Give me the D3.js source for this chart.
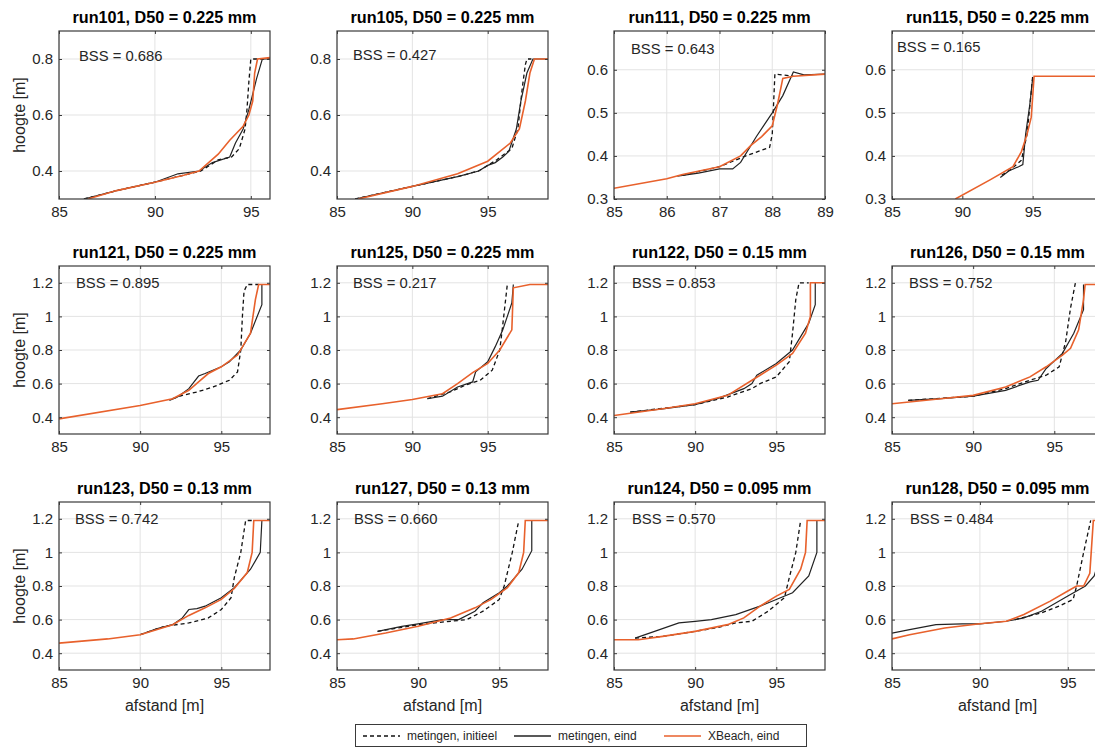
<!DOCTYPE html>
<html>
<head>
<meta charset="utf-8">
<script src="https://cdn.jsdelivr.net/npm/d3@7"></script>
<style>
  body { margin: 0; background: #fff; }
  svg { display: block; }
  text { font-family: "Liberation Sans", Arial, Helvetica, sans-serif; }
</style>
</head>
<body>
<svg id="fig" width="1095" height="749"></svg>
<script>
// ---- run metadata -------------------------------------------------------
const runNames = ["run101", "run105", "run111", "run115",
                  "run121", "run125", "run122", "run126",
                  "run123", "run127", "run124", "run128"];
const d50 = ["0.225", "0.225", "0.225", "0.225",
             "0.225", "0.225", "0.15", "0.15",
             "0.13", "0.13", "0.095", "0.095"];
const bssValues = ["0.686", "0.427", "0.643", "0.165",
                   "0.895", "0.217", "0.853", "0.752",
                   "0.742", "0.660", "0.570", "0.484"];
const xMax = [96, 99, 89, 100, 98, 99, 98, 98, 98, 98, 98, 97];
const yMax = [0.9, 0.9, 0.69, 0.69, 1.3, 1.3, 1.3, 1.3, 1.3, 1.3, 1.3, 1.3];
const xTicksWide = [85, 90, 95];
const xTicksNarrow = [85, 86, 87, 88, 89];
const yTicksRow1 = [0.4, 0.6, 0.8];
const yTicksLow = [0.3, 0.4, 0.5, 0.6];
const yTicksTall = [0.4, 0.6, 0.8, 1, 1.2];

// ---- profiles: [afstand, hoogte] ---------------------------------------
const run101_init = [[86.3,0.30],[88,0.33],[90,0.36],[91.5,0.385],[92.4,0.40],[93.3,0.44],[94.0,0.45],[94.4,0.48],[94.7,0.55],[94.8,0.62],[94.9,0.72],[95.0,0.80],[96,0.80]];
const run101_eind = [[86.3,0.30],[88,0.33],[90,0.36],[91.2,0.39],[92.3,0.40],[93.0,0.43],[93.9,0.45],[94.2,0.50],[94.6,0.55],[94.9,0.62],[95.3,0.73],[95.6,0.80],[96,0.80]];
const run101_xb   = [[86.5,0.30],[88,0.33],[90,0.36],[91.5,0.385],[92.3,0.40],[93.3,0.46],[93.9,0.51],[94.6,0.56],[94.9,0.60],[95.1,0.65],[95.2,0.75],[95.35,0.80],[96,0.805]];

const run105_init = [[86.2,0.30],[90,0.345],[93,0.38],[94.4,0.40],[95.6,0.44],[96.6,0.48],[97.0,0.55],[97.3,0.70],[97.5,0.78],[97.6,0.80],[97.9,0.80]];
const run105_eind = [[86.2,0.30],[90,0.345],[93,0.38],[94.4,0.40],[95.0,0.42],[95.5,0.43],[96.0,0.45],[96.4,0.47],[96.9,0.55],[97.2,0.65],[97.6,0.75],[98.0,0.80],[99,0.80]];
const run105_xb   = [[86.4,0.30],[90,0.345],[93,0.39],[95,0.435],[96.5,0.50],[97.1,0.55],[97.5,0.65],[97.8,0.75],[98.1,0.80],[99,0.80]];

const run111_init = [[86.3,0.355],[87,0.375],[87.3,0.39],[87.5,0.40],[87.95,0.42],[88.0,0.45],[88.05,0.59],[88.4,0.585]];
const run111_eind = [[86.2,0.353],[86.6,0.36],[87,0.37],[87.25,0.37],[87.4,0.385],[87.7,0.445],[88.0,0.50],[88.2,0.54],[88.4,0.595],[88.6,0.588],[89,0.59]];
const run111_xb   = [[85,0.325],[86,0.347],[86.3,0.357],[87,0.375],[87.4,0.40],[87.6,0.425],[87.8,0.445],[88.0,0.47],[88.1,0.52],[88.2,0.58],[88.4,0.585],[89,0.59]];

const run115_init = [[92.8,0.355],[93.5,0.37],[94.2,0.39],[94.6,0.45],[94.9,0.55],[95.0,0.585]];
const run115_eind = [[92.7,0.35],[93.3,0.365],[94.0,0.375],[94.3,0.38],[94.5,0.45],[94.8,0.52],[95.0,0.58]];
const run115_xb   = [[89.5,0.30],[92,0.345],[93.6,0.375],[94.2,0.41],[94.6,0.45],[94.9,0.49],[95.1,0.585],[100,0.585]];

const run121_init = [[92,0.51],[92.6,0.53],[93.5,0.55],[94.5,0.58],[95.5,0.62],[96.0,0.67],[96.2,0.80],[96.3,1.00],[96.4,1.15],[96.6,1.19],[97.3,1.19]];
const run121_eind = [[91.8,0.50],[92.3,0.52],[93,0.57],[93.6,0.645],[94,0.66],[95,0.70],[95.5,0.73],[96.2,0.80],[96.8,0.90],[97.5,1.07],[97.5,1.19],[98,1.19]];
const run121_xb   = [[85,0.39],[90,0.47],[92,0.51],[93,0.56],[93.6,0.61],[94.2,0.66],[95,0.70],[96,0.77],[96.8,0.90],[97.1,1.10],[97.3,1.19],[98,1.19]];

const run125_init = [[91,0.51],[92.5,0.55],[93.5,0.59],[94.5,0.62],[95.3,0.68],[95.8,0.80],[96.0,0.95],[96.3,1.19]];
const run125_eind = [[91,0.51],[92,0.525],[93,0.58],[94,0.61],[94.2,0.67],[95,0.73],[95.5,0.82],[96,0.92],[96.6,1.08],[96.7,1.19]];
const run125_xb   = [[85,0.445],[88,0.48],[90,0.505],[92,0.54],[93,0.60],[94,0.665],[95,0.72],[95.8,0.80],[96.6,0.92],[96.7,1.17],[97.8,1.19],[99,1.19]];

const run122_init = [[86,0.43],[90,0.475],[92,0.52],[93.5,0.57],[94,0.60],[95,0.64],[95.8,0.73],[96.0,0.90],[96.2,1.10],[96.4,1.20],[97,1.20]];
const run122_eind = [[86,0.43],[88,0.45],[90,0.475],[91.5,0.515],[93,0.57],[93.5,0.60],[93.8,0.65],[95,0.72],[96,0.80],[97,0.96],[97.4,1.07],[97.4,1.20]];
const run122_xb   = [[85,0.41],[88,0.45],[90,0.48],[92,0.53],[93.5,0.62],[94,0.65],[95,0.71],[96,0.78],[96.8,0.90],[97.1,1.00],[97.1,1.20],[98,1.20]];

const run126_init = [[86,0.50],[90,0.525],[92,0.57],[93.5,0.62],[94.5,0.65],[95.3,0.70],[95.7,0.85],[96.0,1.05],[96.3,1.20]];
const run126_eind = [[86,0.50],[88,0.51],[90,0.525],[92,0.56],[93.5,0.61],[94,0.62],[94.5,0.69],[95.5,0.78],[96.2,0.90],[96.8,1.04],[96.8,1.19]];
const run126_xb   = [[85,0.48],[88,0.51],[90,0.53],[92,0.58],[93.5,0.64],[94.5,0.70],[95.5,0.77],[96,0.81],[96.5,0.92],[96.8,1.10],[96.9,1.19],[98,1.19]];

const run123_init = [[90,0.51],[91.5,0.56],[93,0.58],[94.2,0.61],[95,0.66],[95.6,0.73],[95.8,0.85],[96.2,1.00],[96.5,1.19],[97,1.19]];
const run123_eind = [[90,0.51],[91,0.545],[92,0.57],[92.6,0.61],[93,0.66],[93.5,0.665],[94,0.68],[95,0.73],[95.8,0.79],[96.8,0.90],[97.4,1.00],[97.5,1.19],[98,1.19]];
const run123_xb   = [[85,0.46],[88,0.485],[90,0.51],[92,0.57],[93,0.625],[94,0.67],[95,0.72],[95.8,0.785],[96.6,0.88],[96.9,1.00],[97,1.19],[98,1.19]];

const run127_init = [[87.5,0.53],[90,0.57],[92,0.59],[93,0.60],[94,0.65],[95,0.72],[95.3,0.80],[95.8,1.00],[96.2,1.19]];
const run127_eind = [[87.5,0.53],[89,0.56],[90,0.575],[91.5,0.60],[92.5,0.60],[93.5,0.65],[94,0.70],[95,0.76],[95.5,0.80],[96.4,0.90],[97,1.01],[97,1.19]];
const run127_xb   = [[85,0.48],[86,0.485],[88,0.52],[90,0.56],[92,0.61],[93.5,0.67],[94.5,0.72],[95.5,0.79],[96.2,0.88],[96.5,1.00],[96.6,1.19],[98,1.19]];

const run124_init = [[86.3,0.49],[88,0.50],[90,0.53],[91.5,0.555],[92.5,0.58],[93.5,0.59],[94.5,0.65],[95.5,0.73],[95.8,0.85],[96.2,1.00],[96.5,1.19]];
const run124_eind = [[86.3,0.49],[87.5,0.53],[89,0.58],[90,0.59],[91,0.60],[92.5,0.63],[94,0.68],[95,0.72],[96,0.76],[97,0.86],[97.5,1.00],[97.5,1.19]];
const run124_xb   = [[85,0.48],[86.5,0.48],[88,0.50],[90,0.53],[92,0.57],[93,0.61],[94,0.68],[95,0.74],[95.8,0.78],[96.5,0.90],[96.8,1.00],[96.9,1.19],[98,1.19]];

const run128_init = [[92,0.60],[93.5,0.64],[94.5,0.68],[95.3,0.72],[95.5,0.80],[95.9,1.00],[96.3,1.19]];
const run128_eind = [[85,0.52],[86,0.54],[87.5,0.57],[89,0.575],[90,0.575],[91.5,0.59],[92.5,0.61],[93.5,0.65],[95,0.74],[96,0.80],[96.5,0.86],[96.9,1.0],[97,1.19]];
const run128_xb   = [[85,0.485],[86,0.51],[88,0.55],[90,0.575],[91.5,0.59],[92.5,0.63],[94,0.71],[95,0.77],[95.5,0.80],[95.9,0.80],[96.25,0.875],[96.45,1.19],[97,1.19]];

const initProfiles = [run101_init, run105_init, run111_init, run115_init, run121_init, run125_init, run122_init, run126_init, run123_init, run127_init, run124_init, run128_init];
const eindProfiles = [run101_eind, run105_eind, run111_eind, run115_eind, run121_eind, run125_eind, run122_eind, run126_eind, run123_eind, run127_eind, run124_eind, run128_eind];
const xbProfiles   = [run101_xb, run105_xb, run111_xb, run115_xb, run121_xb, run125_xb, run122_xb, run126_xb, run123_xb, run127_xb, run124_xb, run128_xb];

const legendLabels = ["metingen, initieel", "metingen, eind", "XBeach, eind"];

// ---- layout ------------------------------------------------------------
const colLeft = [59, 337, 614, 892];
const rowTop = [31, 266, 502];
const axW = 211, axH = 168;
const bssDx = [20, 16, 17, 5, 17, 16, 18, 17, 16, 17, 18, 18];
const bssDy = [25, 24, 18, 16, 17, 17, 17, 17, 17, 17, 17, 17];

const ORANGE = "#e8612c";
const INK = "#262626";
const AXIS = "#3a3a3a";
const GRID = "#e3e3e3";

const svg = d3.select("#fig");

runNames.forEach((name, i) => {
  const r = Math.floor(i / 4), c = i % 4;
  const x0 = colLeft[c], y0 = rowTop[r];
  const x = d3.scaleLinear().domain([85, xMax[i]]).range([0, axW]);
  const y = d3.scaleLinear().domain([0.3, yMax[i]]).range([axH, 0]);
  const xt = (i === 2 ? xTicksNarrow : xTicksWide).filter(v => v <= xMax[i]);
  const yt = r === 0 ? (i < 2 ? yTicksRow1 : yTicksLow) : yTicksTall;

  const g = svg.append("g").attr("transform", `translate(${x0},${y0})`);

  // grid
  g.append("g").selectAll("line").data(xt).join("line")
    .attr("x1", d => x(d)).attr("x2", d => x(d)).attr("y1", 0).attr("y2", axH)
    .attr("stroke", GRID).attr("stroke-width", 1);
  g.append("g").selectAll("line").data(yt).join("line")
    .attr("y1", d => y(d)).attr("y2", d => y(d)).attr("x1", 0).attr("x2", axW)
    .attr("stroke", GRID).attr("stroke-width", 1);

  // clip region for profiles
  const clipId = "clip-" + name;
  g.append("clipPath").attr("id", clipId).append("rect")
    .attr("x", 0).attr("y", 0).attr("width", axW).attr("height", axH);

  const line = d3.line().x(d => x(d[0])).y(d => y(d[1]));
  const plot = g.append("g").attr("clip-path", `url(#${clipId})`);
  plot.append("path").datum(initProfiles[i]).attr("d", line)
    .attr("fill", "none").attr("stroke", "#111").attr("stroke-width", 1.3)
    .attr("stroke-dasharray", "4,3");
  plot.append("path").datum(eindProfiles[i]).attr("d", line)
    .attr("fill", "none").attr("stroke", "#222").attr("stroke-width", 1.2);
  plot.append("path").datum(xbProfiles[i]).attr("d", line)
    .attr("fill", "none").attr("stroke", ORANGE).attr("stroke-width", 1.6);

  // axes (ticks inside, box all round)
  const fmt = d => String(+d.toFixed(2));
  const xAxis = d3.axisBottom(x).tickValues(xt).tickSizeInner(-3).tickSizeOuter(0).tickPadding(7).tickFormat(fmt);
  const yAxis = d3.axisLeft(y).tickValues(yt).tickSizeInner(-3).tickSizeOuter(0).tickPadding(6).tickFormat(fmt);
  const gx = g.append("g").attr("transform", `translate(0,${axH})`).call(xAxis);
  const gy = g.append("g").call(yAxis);
  [gx, gy].forEach(a => {
    a.select(".domain").remove();
    a.selectAll(".tick line").attr("stroke", AXIS);
    a.selectAll(".tick text").attr("fill", INK).attr("font-size", 15);
  });
  g.append("g")
    .call(d3.axisTop(x).tickValues(xt).tickSizeInner(-3).tickSizeOuter(0).tickFormat(""))
    .call(a => { a.select(".domain").remove(); a.selectAll(".tick line").attr("stroke", AXIS); });
  g.append("g").attr("transform", `translate(${axW},0)`)
    .call(d3.axisRight(y).tickValues(yt).tickSizeInner(-3).tickSizeOuter(0).tickFormat(""))
    .call(a => { a.select(".domain").remove(); a.selectAll(".tick line").attr("stroke", AXIS); });
  g.append("rect").attr("x", 0).attr("y", 0).attr("width", axW).attr("height", axH)
    .attr("fill", "none").attr("stroke", AXIS).attr("stroke-width", 1.2);

  // title
  g.append("text").attr("x", axW / 2).attr("y", -8).attr("text-anchor", "middle")
    .attr("font-size", 16.2).attr("font-weight", "bold").attr("fill", "#000")
    .text(`${name}, D50 = ${d50[i]} mm`);

  // skill score
  g.append("text").attr("x", bssDx[i]).attr("y", bssDy[i]).attr("dy", "0.35em")
    .attr("font-size", 14.8).attr("fill", INK)
    .text(`BSS = ${bssValues[i]}`);

  if (c === 0) {
    g.append("text").attr("transform", `translate(-34,${axH / 2}) rotate(-90)`)
      .attr("text-anchor", "middle").attr("font-size", 16).attr("fill", INK)
      .text("hoogte [m]");
  }
  if (r === 2) {
    g.append("text").attr("x", axW / 2).attr("y", axH + 41).attr("text-anchor", "middle")
      .attr("font-size", 16).attr("fill", INK).text("afstand [m]");
  }
});

// ---- legend ------------------------------------------------------------
const leg = svg.append("g").attr("transform", "translate(355,724)");
leg.append("rect").attr("x", 0.5).attr("y", 0.5).attr("width", 451).attr("height", 22)
  .attr("fill", "#fff").attr("stroke", AXIS).attr("stroke-width", 1);
const legX = [8, 159, 309];
const legStroke = ["#111", "#222", ORANGE];
const legDash = ["4,3", null, null];
legendLabels.forEach((lab, k) => {
  leg.append("line").attr("x1", legX[k]).attr("x2", legX[k] + 37).attr("y1", 12).attr("y2", 12)
    .attr("stroke", legStroke[k]).attr("stroke-width", k === 2 ? 1.6 : 1.3)
    .attr("stroke-dasharray", legDash[k]);
  leg.append("text").attr("x", legX[k] + 44).attr("y", 12).attr("dy", "0.35em")
    .attr("font-size", 12).attr("fill", INK).text(lab);
});
</script>
</body>
</html>
